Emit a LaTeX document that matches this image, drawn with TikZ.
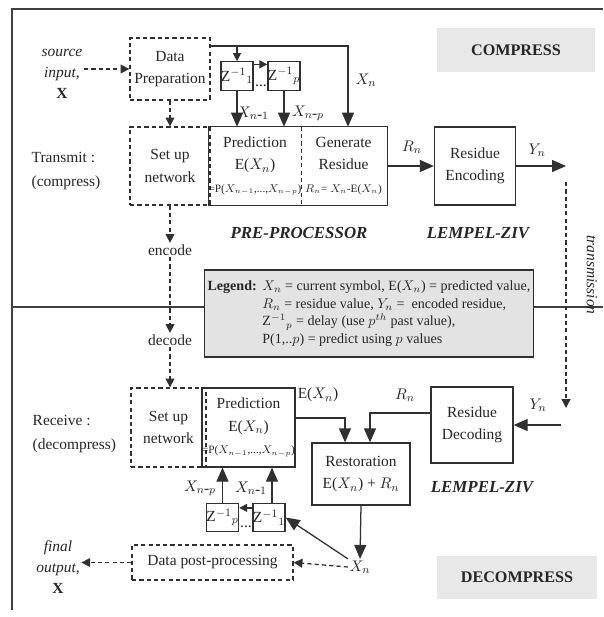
\documentclass[tikz,border=0pt]{standalone}
\usepackage{fontspec}
\setmainfont{Liberation Serif}
\usetikzlibrary{arrows.meta, positioning, calc}
\definecolor{dline}{HTML}{303030}
\definecolor{tagfill}{HTML}{E8E8E8}
\definecolor{legfill}{HTML}{E3E3E3}
\tikzset{
  sbox/.style={draw=dline, line width=0.9pt, inner sep=0pt, align=center},
  dbox/.style={draw=dline, line width=0.9pt, dash pattern=on 3pt off 2.2pt,
               inner sep=0pt, align=center},
  zbox/.style={draw=dline, line width=0.9pt, inner sep=0pt,
               minimum width=7.4mm, minimum height=7.1mm},
  tagbox/.style={fill=tagfill, inner sep=0pt,
                 font=\fontsize{11.5}{13}\selectfont\bfseries},
  arr/.style={-{Triangle[length=3.5mm,width=3mm]}, line width=0.9pt, dline},
  sarr/.style={-{Triangle[length=2mm,width=2mm]}, line width=0.9pt, dline},
  darr/.style={-{Triangle[length=2.2mm,width=2.2mm]}, line width=0.9pt, dline,
               dash pattern=on 3pt off 2.2pt},
  lab/.style={inner sep=1pt, font=\fontsize{11}{13}\selectfont},
  heading/.style={font=\fontsize{12}{14}\selectfont\bfseries\itshape},
  frame/.style={line width=1.1pt, black!75},
}
\newcommand{\eqsize}{\fontsize{8}{10}\selectfont}
\newcommand{\tinysub}[1]{{\scriptscriptstyle #1}}

\begin{document}
\begin{tikzpicture}[
    x=0.25mm, y=-0.25mm,
    every node/.style={font=\fontsize{11}{16}\selectfont, text=black!85}
  ]
  \useasboundingbox (0,0) rectangle (603,617);

  % frame
  \draw[frame] (603,9) -- (12,9) -- (12,610);
  \draw[frame] (12,307) -- (210,307);
  \draw[frame] (528,307) -- (603,307);

  % compress side
  \node[lab, align=center, font=\fontsize{11}{15}\selectfont\itshape] (src) at (62,74) {source\\input,\\\textbf{\upshape X}};
  \node[dbox, minimum width=20mm, minimum height=15.5mm] (prep) at (170,69) {Data\\Preparation};
  \node[dbox, minimum width=20mm, minimum height=19.5mm] (setupc) at (170,166) {Set up\\network};
  \node[lab, align=left, anchor=west, font=\fontsize{11}{17}\selectfont] (transmit) at (30,171) {Transmit :\\(compress)};

  \node[inner sep=0pt, align=center, minimum width=22.5mm, minimum height=19.5mm] (pred) at (255,166)
    {Prediction\\E($X_n$)\\{\eqsize =P($X_{\tinysub{n-1}}$,...,$X_{\tinysub{n-p}}$)}};
  \node[inner sep=0pt, align=center, minimum width=21.75mm, minimum height=19.5mm] (gen) at (343.5,166)
    {Generate\\Residue\\{\eqsize $R_{\tinysub{n}}$= $X_{\tinysub{n}}$-E($X_{\tinysub{n}}$)}};
  \draw[line width=0.9pt, dline] (pred.north west) rectangle (gen.south east);
  \draw[line width=0.8pt, dline, dash pattern=on 3pt off 2.2pt] (pred.north east) -- (pred.south east);

  \node[zbox] (z1) at (237,76) {Z$^{-1}{}_{1}$};
  \node[zbox] (zp) at (284,76) {Z$^{-1}{}_{p}$};
  \node[inner sep=0pt] (zdots) at (261,86) {...};

  \node[sbox, minimum width=20.25mm, minimum height=19.5mm] (enc) at (475,166) {Residue\\Encoding};
  \node[tagbox, minimum width=39.5mm, minimum height=11mm] (compress) at (516,50) {COMPRESS};

  \node[heading] (preproc) at (299,233) {PRE-PROCESSOR};
  \node[heading] (lzc) at (478,233) {LEMPEL-ZIV};

  \node[lab] (lxn) at (366,80) {$X_n$};
  \node[lab] (lx1) at (253,113) {$X_{n\mbox{-}1}$};
  \node[lab] (lxp) at (308,113) {$X_{n\mbox{-}p}$};
  \node[lab] (lrn) at (412,147) {$R_n$};
  \node[lab] (lyn) at (537,150) {$Y_n$};

  \coordinate (xin) at (348,46);
  \coordinate (yout) at (566,166);

  \draw[darr] (src.east |- prep.west) -- (prep.west);
  \draw[darr] (prep.south) -- (setupc.north);
  \draw[arr] (prep.east |- xin) -- (xin) -- (xin |- gen.north);
  \draw[sarr] (z1.north |- xin) -- (z1.north);
  \draw[sarr] ([yshift=-0.8mm]z1.north east) -- ([yshift=-0.8mm]zp.north west);
  \draw[arr] (z1.south) -- (z1.south |- pred.north);
  \draw[arr] (zp.south) -- (zp.south |- pred.north);
  \draw[arr] (gen.east) -- (enc.west);
  \draw[arr] (enc.east) -- (yout);

  % channel
  \node[lab, rotate=-90, font=\fontsize{11}{13}\selectfont\itshape] (trans) at (592,275) {transmission};
  \coordinate (ytop) at (566,182);
  \coordinate (ybot) at (566,408);
  \draw[darr] (ytop) -- (ybot);

  \node[lab] (encode) at (170,250) {encode};
  \node[lab] (decode) at (170,340) {decode};
  \draw[darr] (setupc.south) -- (encode.north);
  \draw[darr] (encode.south) -- (decode.north);

  % legend
  \node[draw=dline, fill=legfill, line width=0.9pt, minimum width=79.5mm, minimum height=21.75mm,
        inner sep=2pt, font=\fontsize{10}{12.6}\selectfont] (legend) at (369,313.5)
    {\begin{tabular}{@{}l@{\hspace{4pt}}l@{}}
      \textbf{Legend:} & $X_n$ = current symbol, E($X_n$) = predicted value,\\
       & $R_n$ = residue value, $Y_n$ = \ encoded residue,\\
       & Z$^{-1}{}_{p}$ = delay (use $p^{th}$ past value),\\
       & P(1,..$p$) = predict using $p$ values
    \end{tabular}};

  % decompress side
  \node[dbox, minimum width=18.75mm, minimum height=19.75mm] (setupd) at (168.5,427.5) {Set up\\network};
  \node[lab, align=left, anchor=west, font=\fontsize{11}{17}\selectfont] (receive) at (31,434) {Receive :\\(decompress)};
  \node[sbox, minimum width=21.25mm, minimum height=19.75mm] (predd) at (248.5,427.5)
    {Prediction\\E($X_n$)\\{\eqsize =P($X_{\tinysub{n-1}}$,...,$X_{\tinysub{n-p}}$)}};
  \node[sbox, minimum width=20.5mm, minimum height=19mm] (dec) at (472,425) {Residue\\Decoding};
  \node[sbox, minimum width=24.5mm, minimum height=15.5mm] (rest) at (361,474) {Restoration\\E($X_n$) + $R_n$};
  \node[zbox] (zd1) at (269,517.5) {Z$^{-1}{}_{1}$};
  \node[zbox] (zdp) at (222.5,517.5) {Z$^{-1}{}_{p}$};
  \node[inner sep=0pt] (zddots) at (246,527) {...};
  \node[dbox, minimum width=40.25mm, minimum height=8.75mm] (post) at (212.5,562.5) {Data post-processing};
  \node[lab, align=center, font=\fontsize{11}{15}\selectfont\itshape] (final) at (58,567) {final\\output,\\\textbf{\upshape X}};
  \node[lab] (xn) at (360,567) {$X_n$};
  \node[tagbox, minimum width=40mm, minimum height=10.75mm] (decompress) at (517,577) {DECOMPRESS};
  \node[heading] (lzd) at (482,487) {LEMPEL-ZIV};

  \node[lab] (lex) at (318,395) {E($X_n$)};
  \node[lab] (lrd) at (405,395) {$R_n$};
  \node[lab] (lyd) at (538,405) {$Y_n$};
  \node[lab] (lxdp) at (200,488) {$X_{n\mbox{-}p}$};
  \node[lab] (lxd1) at (251,488) {$X_{n\mbox{-}1}$};

  \coordinate (yrx) at (561,425);

  \draw[darr] (decode.south) -- (decode.south |- setupd.north);
  \draw[arr] (yrx) -- (dec.east);
  \draw[arr] ([yshift=2.4mm]predd.east) -| ([xshift=-4mm]rest.north);
  \draw[arr] ([yshift=3mm]dec.west) -| ([xshift=2.25mm]rest.north);
  \draw[arr] (rest.south) -- (xn.north);
  \draw[arr] (xn.north west) -- (zd1.east);
  \draw[sarr] ([yshift=-1.3mm]zd1.north west) -- ([yshift=-1.3mm]zdp.north east);
  \draw[arr] (zdp.north) -- (zdp.north |- predd.south);
  \draw[arr] ([xshift=0.75mm]zd1.north) -- ([xshift=0.75mm]zd1.north |- predd.south);
  \draw[darr] (xn.west) -- (post.east);
  \draw[darr] (post.west) -- (final.east |- post.west);

\end{tikzpicture}
\end{document}
